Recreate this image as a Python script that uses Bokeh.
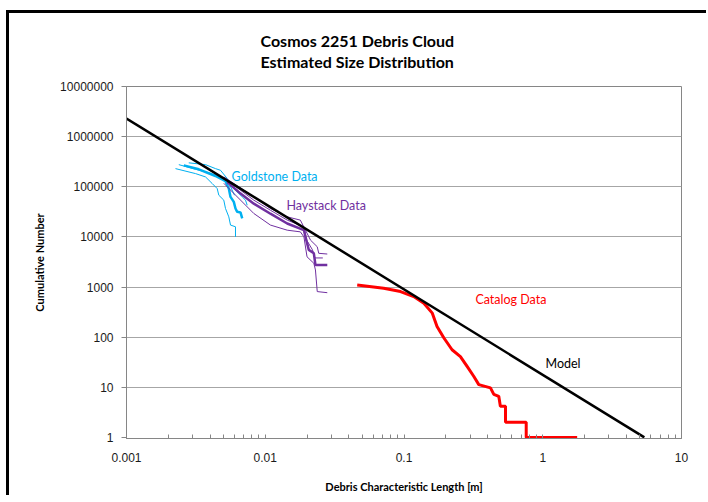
from bokeh.plotting import figure
from bokeh.models import Range1d, FixedTicker, Label, Title, CustomJSTickFormatter
from bokeh.embed import file_html
from bokeh.resources import INLINE

# ---------------- data ----------------
x_ticks = [0.001, 0.01, 0.1, 1, 10]
x_tick_labels = ["0.001", "0.01", "0.1", "1", "10"]
y_ticks = [1, 10, 100, 1000, 10000, 100000, 1000000, 10000000]
y_tick_labels = ["1", "10", "100", "1000", "10000", "100000", "1000000", "10000000"]

model_x = [0.001, 5.4]
model_y = [2.3e6, 1]

catalog_x = [0.046, 0.0714, 0.0944, 0.1175, 0.139, 0.160, 0.173, 0.194, 0.222, 0.255,
             0.285, 0.318, 0.346, 0.42, 0.444, 0.482, 0.495, 0.539, 0.539, 0.76, 0.76, 1.77]
catalog_y = [1100, 946, 810, 645, 476, 301, 163, 96, 56, 41,
             26, 16.6, 11.3, 9.7, 7.2, 6.6, 4.2, 4.2, 2, 2, 1, 1]

gold_a_x = [0.002255, 0.003144, 0.003711, 0.004146, 0.004505, 0.004626, 0.005026, 0.005169,
            0.005462, 0.005618, 0.006103, 0.006103]
gold_a_y = [230000, 183000, 157000, 116000, 92000, 67800, 54000, 36900, 25100, 17200, 15900, 10000]

gold_b_x = [0.00281, 0.003711, 0.004379, 0.004759, 0.005318, 0.005779, 0.006279, 0.006823,
            0.007206, 0.007413]
gold_b_y = [300000, 276000, 230000, 213000, 146000, 99000, 78900, 62700, 54000, 42900]

gold_c_x = [0.002383, 0.003144, 0.00392, 0.004759, 0.005435, 0.006004]
gold_c_y = [276000, 223000, 191000, 154000, 123000, 67800]

gold_thick_x = [0.002588, 0.00332, 0.004379, 0.005169, 0.005462, 0.005618, 0.005934, 0.006103,
                0.006279, 0.006632, 0.006823]
gold_thick_y = [267000, 223000, 164000, 129000, 92000, 62700, 49900, 36900, 31600, 30700, 23300]

hay_thick_x = [0.00532, 0.00664, 0.00827, 0.0109, 0.0144, 0.019, 0.0195, 0.0206, 0.0224, 0.023, 0.028]
hay_thick_y = [124000, 73000, 46000, 29000, 18500, 13600, 10000, 5500, 4700, 2750, 2750]

hay_a_x = [0.00503, 0.00827, 0.0109, 0.0144, 0.0179, 0.0195, 0.0212, 0.0237, 0.0243, 0.028]
hay_a_y = [157000, 63000, 36900, 25100, 21600, 13600, 8600, 6350, 4700, 4550]

hay_b_x = [0.00503, 0.00827, 0.0109, 0.0144, 0.0179, 0.019, 0.020, 0.0224, 0.023, 0.0237, 0.028]
hay_b_y = [117000, 29300, 17200, 13600, 12600, 10000, 4000, 2970, 2190, 810, 770]

hay_c_x = [0.00532, 0.00827, 0.0109, 0.0144, 0.019, 0.0199, 0.0219, 0.0228, 0.026]
hay_c_y = [135000, 54000, 34000, 21600, 15900, 8600, 5500, 3800, 3800]

labels = ["Goldstone Data", "Haystack Data", "Catalog Data", "Model"]
label_x = [0.00572, 0.0142, 0.327, 1.047]
label_y = [162000, 42900, 554, 29.6]

title_lines = ["Cosmos 2251 Debris Cloud", "Estimated Size Distribution"]

# ---------------- styling ----------------
BLUE = "#00b0f0"
PURPLE = "#7030a0"
RED = "#ff0000"
FONT = "Lato"

p = figure(x_axis_type="log", y_axis_type="log",
           x_range=Range1d(0.001, 10), y_range=Range1d(0.95, 1e7),
           frame_width=555, frame_height=352,
           min_border_left=117, min_border_right=25, min_border_top=73, min_border_bottom=55,
           output_backend="svg", toolbar_location=None,
           background_fill_color="white", border_fill_color="white")
p.styles = {"border-left": "3px solid black", "border-top": "3px solid black",
            "margin-left": "6px", "margin-top": "10px"}

p.outline_line_color = "#868686"
p.outline_line_width = 1

p.add_layout(Title(text="\n".join(title_lines), align="left", offset=134, standoff=30,
                   text_font=FONT, text_font_size="16px", text_font_style="bold",
                   text_color="#000000", text_line_height=1.15), "above")

minor = [m * 10.0 ** k for k in range(-3, 1) for m in range(2, 10)]
p.xaxis.ticker = FixedTicker(ticks=x_ticks, minor_ticks=minor)
p.yaxis.ticker = FixedTicker(ticks=y_ticks)
p.ygrid.ticker = FixedTicker(ticks=y_ticks[1:])
p.xaxis.formatter = CustomJSTickFormatter(args=dict(vals=x_ticks, labs=x_tick_labels),
                                          code="const i = vals.indexOf(tick); return i >= 0 ? labs[i] : '';")
p.yaxis.formatter = CustomJSTickFormatter(args=dict(vals=y_ticks, labs=y_tick_labels),
                                          code="const i = vals.indexOf(tick); return i >= 0 ? labs[i] : '';")

for ax in (p.xaxis, p.yaxis):
    ax.axis_line_color = "#868686"
    ax.major_tick_line_color = "#868686"
    ax.minor_tick_line_color = "#868686"
    ax.major_label_text_font = "Liberation Sans"
    ax.major_label_text_font_size = "12px"
    ax.major_label_text_color = "#1a1a1a"
    ax.axis_label_text_font = FONT
    ax.axis_label_text_font_size = "11px"
    ax.axis_label_text_font_style = "bold"
    ax.axis_label_text_color = "#000000"

p.xaxis.major_tick_in = 4
p.xaxis.major_tick_out = 0
p.xaxis.minor_tick_in = 4
p.xaxis.minor_tick_out = 0
p.xaxis.major_label_standoff = 14
p.xaxis.axis_label = "Debris Characteristic Length [m]"
p.xaxis.axis_label_standoff = 15

p.yaxis.major_tick_in = 0
p.yaxis.major_tick_out = 5
p.yaxis.minor_tick_line_color = None
p.yaxis.major_label_standoff = 8
p.yaxis.axis_label = "Cumulative Number"
p.yaxis.axis_label_standoff = 11

p.xgrid.visible = False
p.ygrid.grid_line_color = "#a6a6a6"
p.ygrid.grid_line_width = 1

# ---------------- glyphs ----------------
for xs, ys in [(gold_a_x, gold_a_y), (gold_b_x, gold_b_y), (gold_c_x, gold_c_y)]:
    p.line(xs, ys, line_color=BLUE, line_width=1)
p.line(gold_thick_x, gold_thick_y, line_color=BLUE, line_width=2.5)

for xs, ys in [(hay_a_x, hay_a_y), (hay_b_x, hay_b_y), (hay_c_x, hay_c_y)]:
    p.line(xs, ys, line_color=PURPLE, line_width=1)
p.line(hay_thick_x, hay_thick_y, line_color=PURPLE, line_width=2.5)

p.line(catalog_x, catalog_y, line_color=RED, line_width=3)
p.line(model_x, model_y, line_color="black", line_width=2.5)

label_colors = [BLUE, PURPLE, RED, "black"]
for txt, lx, ly, col in zip(labels, label_x, label_y, label_colors):
    p.add_layout(Label(x=lx, y=ly, text=txt, text_color=col, text_font=FONT,
                       text_font_size="12.5px", text_baseline="middle", text_align="left"))

open("out.html", "w").write(file_html(p, INLINE))
